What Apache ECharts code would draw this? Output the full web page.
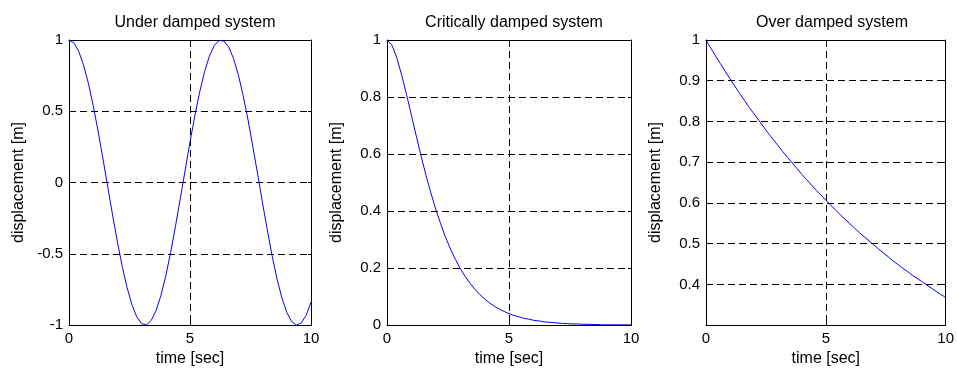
<!DOCTYPE html>
<html>
<head>
<meta charset="utf-8">
<script src="https://cdn.jsdelivr.net/npm/echarts@6/dist/echarts.min.js"></script>
<style>
html,body{margin:0;padding:0;background:#fff;}
#chart{width:957px;height:372px;}
</style>
</head>
<body>
<div id="chart"></div>
<script>
// Time samples (sec)
const time = [0,0.2,0.4,0.6,0.8,1.0,1.2,1.4,1.6,1.8,2.0,2.2,2.4,2.6,2.8,3.0,3.2,3.4,3.6,3.8,4.0,4.2,4.4,4.6,4.8,5.0,5.2,5.4,5.6,5.8,6.0,6.2,6.4,6.6,6.8,7.0,7.2,7.4,7.6,7.8,8.0,8.2,8.4,8.6,8.8,9.0,9.2,9.4,9.6,9.8,10.0];

// Displacement [m]
const underDamped = [1,0.980,0.921,0.825,0.697,0.540,0.362,0.170,-0.029,-0.227,-0.416,-0.589,-0.737,-0.857,-0.942,-0.990,-0.998,-0.967,-0.897,-0.791,-0.654,-0.490,-0.307,-0.112,0.087,0.284,0.469,0.635,0.776,0.886,0.960,0.997,0.993,0.951,0.870,0.754,0.608,0.438,0.250,0.054,-0.146,-0.339,-0.519,-0.679,-0.811,-0.911,-0.975,-1.000,-0.985,-0.931,-0.839];

const criticallyDamped = [1,0.982,0.938,0.878,0.809,0.736,0.663,0.592,0.525,0.463,0.406,0.355,0.308,0.267,0.231,0.199,0.171,0.147,0.126,0.107,0.092,0.078,0.066,0.056,0.048,0.040,0.034,0.029,0.024,0.021,0.017,0.015,0.012,0.010,0.009,0.007,0.006,0.005,0.004,0.004,0.003,0.003,0.002,0.002,0.001,0.001,0.001,0.001,0.001,0.001,0.0005];

const overDamped = [1,0.980,0.961,0.942,0.923,0.905,0.887,0.869,0.852,0.835,0.819,0.803,0.787,0.771,0.756,0.741,0.726,0.712,0.698,0.684,0.670,0.657,0.644,0.631,0.619,0.607,0.595,0.583,0.571,0.560,0.549,0.538,0.527,0.517,0.507,0.497,0.487,0.477,0.468,0.458,0.449,0.440,0.432,0.423,0.415,0.407,0.399,0.391,0.383,0.375,0.368];

const titles = ['Under damped system','Critically damped system','Over damped system'];
const xLabel = 'time [sec]';
const yLabel = 'displacement [m]';
const xTicks = {min:0, max:10, interval:5};
const yTicks = [
  {min:-1, max:1, interval:0.5, hide:[]},
  {min:0, max:1, interval:0.2, hide:[]},
  {min:0.3, max:1, interval:0.1, hide:[0.3]}
];
const seriesData = [underDamped, criticallyDamped, overDamped];

const FONT = 'Liberation Sans, Arial, Helvetica, sans-serif';
const grids = [
  {left:69, top:40, width:242, height:287},
  {left:387, top:40, width:244, height:287},
  {left:706, top:40, width:242, height:287}
];

const lineBlack = {show:true, onZero:false, lineStyle:{color:'#000', width:1}};
const tickIn = {show:true, inside:true, length:3, lineStyle:{color:'#000'}};
const dashedGrid = {show:true, showMinLine:false, showMaxLine:false, lineStyle:{color:'#000', width:1, type:[7,4]}};

const option = {
  animation:false,
  backgroundColor:'#fff',
  title: grids.map((g,i)=>({
    text: titles[i],
    left: g.left + g.width/2,
    textAlign:'center',
    top: 10,
    textStyle:{fontFamily:FONT, fontSize:16, fontWeight:'normal', color:'#000'}
  })),
  grid: grids.map(g=>Object.assign({show:false}, g)),
  xAxis: [],
  yAxis: [],
  series: []
};

grids.forEach((g,i)=>{
  const yt = yTicks[i];
  option.xAxis.push({
    type:'value', gridIndex:i, position:'bottom', min:xTicks.min, max:xTicks.max, interval:xTicks.interval,
    name:xLabel, nameLocation:'middle', nameGap:21,
    nameTextStyle:{fontFamily:FONT, fontSize:16, color:'#000'},
    axisLine:lineBlack, axisTick:tickIn,
    axisLabel:{fontFamily:FONT, fontSize:15, color:'#000', margin:6},
    splitLine:dashedGrid
  });
  option.xAxis.push({
    type:'value', gridIndex:i, position:'top', min:xTicks.min, max:xTicks.max, interval:xTicks.interval,
    axisLine:lineBlack, axisTick:tickIn,
    axisLabel:{show:false}, splitLine:{show:false}
  });
  option.yAxis.push({
    type:'value', gridIndex:i, position:'left', min:yt.min, max:yt.max, interval:yt.interval,
    name:yLabel, nameLocation:'middle', nameGap:42, nameRotate:90,
    nameTextStyle:{fontFamily:FONT, fontSize:16, color:'#000'},
    axisLine:lineBlack, axisTick:tickIn,
    axisLabel:{fontFamily:FONT, fontSize:15, color:'#000', margin:6,
      formatter:(v)=> yt.hide.some(h=>Math.abs(h-v)<1e-9) ? '' : String(+v.toFixed(2))},
    splitLine:dashedGrid
  });
  option.yAxis.push({
    type:'value', gridIndex:i, position:'right', min:yt.min, max:yt.max, interval:yt.interval,
    axisLine:lineBlack, axisTick:tickIn,
    axisLabel:{show:false}, splitLine:{show:false}
  });
  option.series.push({
    type:'line', xAxisIndex:2*i, yAxisIndex:2*i,
    data: time.map((t,k)=>[t, seriesData[i][k]]),
    showSymbol:false, smooth:false, silent:true,
    lineStyle:{color:'#0000ff', width:1}
  });
});

const chart = echarts.init(document.getElementById('chart'), null, {renderer:'canvas'});
chart.setOption(option);
</script>
</body>
</html>
